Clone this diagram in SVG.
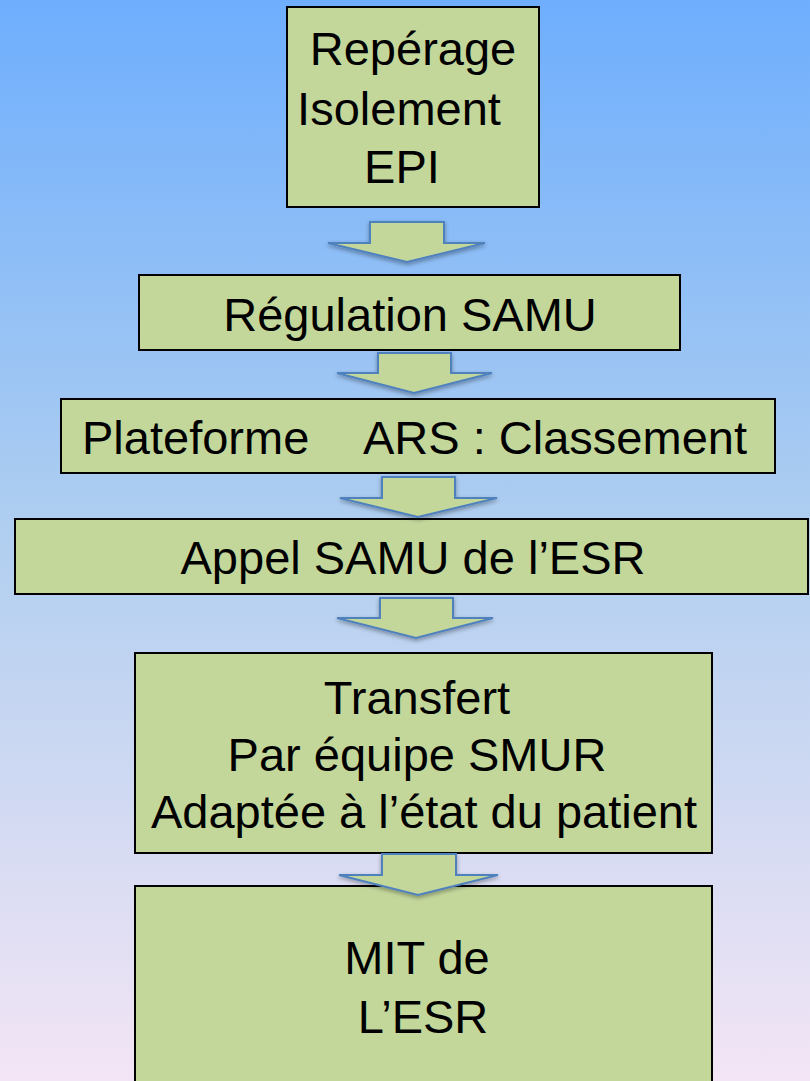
<svg xmlns="http://www.w3.org/2000/svg" width="810" height="1081" viewBox="0 0 810 1081">
<defs>
<linearGradient id="bg" x1="0" y1="0" x2="0" y2="1">
<stop offset="0" stop-color="#6eaefd"/>
<stop offset="0.5" stop-color="#b1cff0"/>
<stop offset="1" stop-color="#f3e5f5"/>
</linearGradient>
<filter id="sh" x="-20%" y="-20%" width="140%" height="160%">
<feDropShadow dx="0" dy="2" stdDeviation="2" flood-color="#000" flood-opacity="0.35"/>
</filter>
</defs>
<style>
.box{fill:#c4d79b;stroke:#000;stroke-width:2}
.arr{fill:#c4d79b;stroke:#4f81bd;stroke-width:2;stroke-linejoin:miter;filter:url(#sh)}
.t{font-family:"Liberation Sans",Arial,sans-serif;font-size:47px;fill:#000;text-anchor:middle}
.ts{font-family:"Liberation Sans",Arial,sans-serif;font-size:47px;fill:#000}
</style>
<rect width="810" height="1081" fill="url(#bg)"/>
<g id="n1">
<rect class="box" x="287" y="7" width="252" height="200"/>
<text class="t"><tspan x="413" y="65">Repérage</tspan><tspan x="399" y="125">Isolement</tspan><tspan x="402" y="183">EPI</tspan></text>
</g>
<g id="n2">
<rect class="box" x="139" y="275" width="541" height="75"/>
<text class="t" x="410" y="331">Régulation SAMU</text>
</g>
<g id="n3">
<rect class="box" x="61" y="399" width="714" height="74"/>
<text class="ts" y="454"><tspan x="82">Plateforme</tspan><tspan x="363">ARS : Classement</tspan></text>
</g>
<g id="n4">
<rect class="box" x="15" y="519" width="793" height="75"/>
<text class="t" x="413" y="574">Appel SAMU de l’ESR</text>
</g>
<g id="n5">
<rect class="box" x="135" y="653" width="577" height="200"/>
<text class="t"><tspan x="417" y="714">Transfert</tspan><tspan x="417" y="771">Par équipe SMUR</tspan><tspan x="424" y="828">Adaptée à l’état du patient</tspan></text>
</g>
<g id="n6">
<rect class="box" x="135" y="886" width="577" height="210"/>
<text class="t"><tspan x="417" y="974">MIT de</tspan><tspan x="423" y="1033">L’ESR</tspan></text>
</g>
<g id="connectors">
<polygon class="arr" points="370,222 444,222 444,243 485,243 407,262 328,243 370,243"/>
<polygon class="arr" points="378,353 451,353 451,373 492,373 414,393 337,373 378,373"/>
<polygon class="arr" points="382,477 455,477 455,498 497,498 418,517 340,498 382,498"/>
<polygon class="arr" points="380,598 453,598 453,618 493,618 416,638 337,618 380,618"/>
<polygon class="arr" points="382,854 456,854 456,875 498,875 418,895 339,875 382,875"/>
</g>
</svg>
